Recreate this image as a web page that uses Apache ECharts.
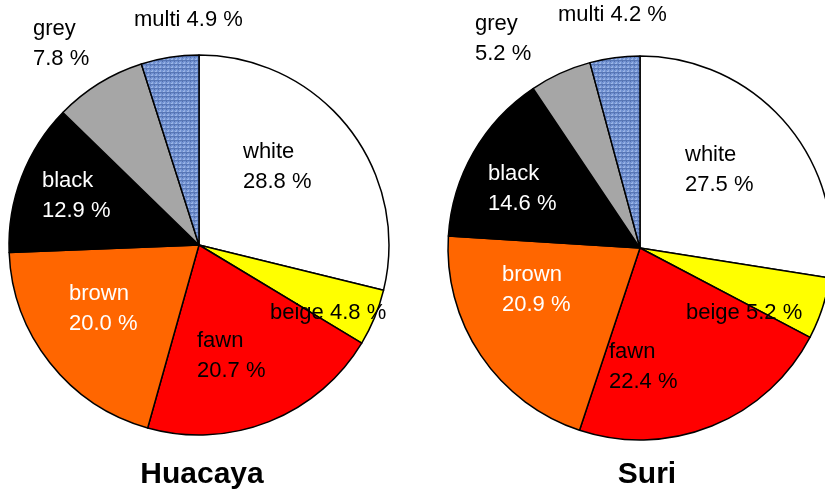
<!DOCTYPE html>
<html>
<head>
<meta charset="utf-8">
<script src="https://cdn.jsdelivr.net/npm/echarts@6/dist/echarts.min.js"></script>
<style>
html,body{margin:0;padding:0;background:#fff;}
#chart{width:825px;height:490px;}
</style>
</head>
<body>
<div id="chart"></div>
<script>
// ---- data ----
var categories = ['white', 'beige', 'fawn', 'brown', 'black', 'grey', 'multi'];
var huacayaValues = [28.8, 4.8, 20.7, 20.0, 12.9, 7.8, 4.9];
var suriValues = [27.5, 5.2, 22.4, 20.9, 14.6, 5.2, 4.2];
var chartTitles = ['Huacaya', 'Suri'];

// ---- styles ----
var sliceColors = ['#ffffff', '#ffff00', '#ff0000', '#ff6600', '#000000', '#a6a6a6', null];
var labelColors = ['#000', '#000', '#000', '#fff', '#fff', '#000', '#000'];
var singleLine = [false, true, false, false, false, false, true];
// label anchor positions (left x, middle y)
var huacayaLabelPos = [[243,167],[270,313],[197,356],[69,309],[42,196],[33,44],[134,20]];
var suriLabelPos = [[685,170],[686,313],[609,367],[502,290],[488,189],[475,39],[558,15]];

// textured blue pattern for "multi"
var pc = document.createElement('canvas');
pc.width = 4; pc.height = 4;
var pctx = pc.getContext('2d');
pctx.fillStyle = '#7393d2'; pctx.fillRect(0,0,4,4);
pctx.fillStyle = '#5877b6'; pctx.fillRect(0,0,4,1);
pctx.fillStyle = '#97b2e5'; pctx.fillRect(0,2,1,2);
pctx.fillStyle = '#536fae'; pctx.fillRect(2,1,1,1);
pctx.fillStyle = '#a0b9e8'; pctx.fillRect(3,3,1,1);

function buildData(values) {
  return categories.map(function (c, i) {
    var col = sliceColors[i] || { image: pc, repeat: 'repeat' };
    return {
      name: c,
      value: values[i],
      itemStyle: { color: col },
      label: { color: labelColors[i] }
    };
  });
}

function fmt(p) {
  var v = p.value.toFixed(1) + ' %';
  return singleLine[p.dataIndex] ? p.name + ' ' + v : p.name + '\n' + v;
}

function makeSeries(values, center, radius, pos) {
  return {
    type: 'pie',
    center: center,
    radius: radius,
    startAngle: 90,
    clockwise: true,
    sort: null,
    avoidLabelOverlap: false,
    silent: true,
    animation: false,
    data: buildData(values),
    itemStyle: { borderColor: '#000', borderWidth: 1.5 },
    label: {
      show: true,
      position: 'inside',
      formatter: fmt,
      fontSize: 22,
      lineHeight: 30,
      fontFamily: 'Liberation Sans, Arial, sans-serif',
      align: 'left'
    },
    labelLine: { show: false },
    labelLayout: function (params) {
      var p = pos[params.dataIndex];
      return { x: p[0], y: p[1], align: 'left', verticalAlign: 'middle' };
    },
    emphasis: { disabled: true }
  };
}

var chart = echarts.init(document.getElementById('chart'), null, { renderer: 'canvas' });
chart.setOption({
  backgroundColor: '#ffffff',
  animation: false,
  title: [
    { text: chartTitles[0], left: 197, top: 455, textAlign: 'center',
      textStyle: { fontSize: 30, fontWeight: 'bold', color: '#000', fontFamily: 'Liberation Sans, Arial, sans-serif' } },
    { text: chartTitles[1], left: 642, top: 455, textAlign: 'center',
      textStyle: { fontSize: 30, fontWeight: 'bold', color: '#000', fontFamily: 'Liberation Sans, Arial, sans-serif' } }
  ],
  series: [
    makeSeries(huacayaValues, [199, 245], 190, huacayaLabelPos),
    makeSeries(suriValues, [640, 248], 192, suriLabelPos)
  ]
});
</script>
</body>
</html>
